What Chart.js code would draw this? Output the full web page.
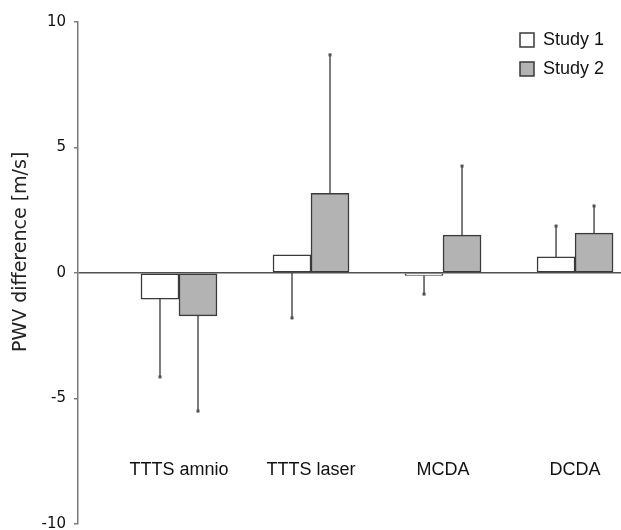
<!DOCTYPE html>
<html>
<head>
<meta charset="utf-8">
<script src="https://cdn.jsdelivr.net/npm/chart.js@4/dist/chart.umd.min.js"></script>
<style>
  html, body { margin: 0; padding: 0; background: #fff; }
  #wrap { width: 621px; height: 530px; }
</style>
</head>
<body>
<div id="wrap"><canvas id="c" width="621" height="530"></canvas></div>
<script>
// ---- data ----
const categories = ['TTTS amnio', 'TTTS laser', 'MCDA', 'DCDA'];
const seriesNames = ['Study 1', 'Study 2'];
const study1 = [-1.04, 0.72, -0.10, 0.64];
const study2 = [-1.71, 3.17, 1.51, 1.59];
// end value of each (one-sided) error bar
const study1ErrEnd = [-4.14, -1.79, -0.84, 1.87];
const study2ErrEnd = [-5.50, 8.69, 4.26, 2.67];
const yTicks = [-10, -5, 0, 5, 10];

const toPoints = arr => arr.map((v, i) => ({ x: i + 1, y: v }));

const errorBarPlugin = {
  id: 'errorBars',
  beforeDatasetsDraw(chart) {
    const ctx = chart.ctx;
    const ys = chart.scales.y;
    const ends = [study1ErrEnd, study2ErrEnd];
    ctx.save();
    ctx.strokeStyle = '#505050';
    ctx.fillStyle = '#505050';
    ctx.lineWidth = 1.5;
    chart.data.datasets.forEach((ds, di) => {
      const meta = chart.getDatasetMeta(di);
      meta.data.forEach((bar, j) => {
        const x = bar.x;
        const y0 = ys.getPixelForValue(ds.data[j].y);
        const y1 = ys.getPixelForValue(ends[di][j]);
        ctx.beginPath();
        ctx.moveTo(x, y0);
        ctx.lineTo(x, y1);
        ctx.stroke();
        ctx.fillRect(x - 1.5, y1 - 1.5, 3, 3);
      });
    });
    ctx.restore();
  }
};

const legendPlacer = {
  id: 'legendPlacer',
  afterLayout(chart) {
    const lg = chart.legend;
    if (!lg) return;
    const w = lg.width, h = lg.height;
    lg.left = 509; lg.top = 20;
    lg.right = lg.left + w; lg.bottom = lg.top + h;
  }
};

new Chart(document.getElementById('c'), {
  type: 'bar',
  data: {
    datasets: [
      {
        label: seriesNames[0],
        data: toPoints(study1),
        backgroundColor: '#ffffff',
        borderColor: '#3a3a3a',
        borderWidth: 1.5,
        borderSkipped: false
      },
      {
        label: seriesNames[1],
        data: toPoints(study2),
        backgroundColor: '#b3b3b3',
        borderColor: '#3a3a3a',
        borderWidth: 1.5,
        borderSkipped: false
      }
    ]
  },
  options: {
    responsive: false,
    devicePixelRatio: 1,
    animation: false,
    barThickness: 38,
    layout: { padding: { top: 22, bottom: 6, left: 0, right: 0 } },
    plugins: {
      tooltip: { enabled: false },
      legend: {
        position: 'chartArea',
        align: 'start',
        labels: {
          font: { family: '"Liberation Sans", Arial, sans-serif', size: 18 },
          color: '#111',
          boxWidth: 14,
          boxHeight: 14,
          padding: 11
        }
      }
    },
    scales: {
      x: {
        type: 'linear',
        position: { y: -7.0 },
        min: 0.235,
        max: 4.348,
        offset: false,
        grid: { display: false },
        border: { display: false },
        afterBuildTicks: s => { s.ticks = categories.map((c, i) => ({ value: i + 1 })); },
        afterFit: s => { s.paddingLeft = 0; s.paddingRight = 0; },
        ticks: {
          padding: 3,
          maxRotation: 0,
          autoSkip: false,
          color: '#111',
          font: { family: '"Liberation Sans", Arial, sans-serif', size: 18 },
          callback: v => categories[Math.round(v) - 1]
        }
      },
      y: {
        min: -10,
        max: 10,
        afterBuildTicks: s => { s.ticks = yTicks.map(v => ({ value: v })); },
        afterFit: s => { s.width = 78; s.paddingTop = 0; s.paddingBottom = 0; },
        border: { display: true, color: '#7a7a7a', width: 1.5 },
        grid: {
          drawOnChartArea: true,
          drawTicks: true,
          tickLength: 4,
          tickColor: '#7a7a7a',
          lineWidth: 1.5,
          color: ctx => (ctx.tick && ctx.tick.value === 0) ? '#505050' : 'rgba(0,0,0,0)'
        },
        ticks: {
          padding: 8,
          color: '#111',
          font: { family: '"DejaVu Sans", Verdana, sans-serif', size: 15 }
        },
        title: {
          display: true,
          text: '       PWV difference [m/s]',
          color: '#222',
          padding: { top: 10, bottom: 0 },
          font: { family: '"DejaVu Sans", Verdana, sans-serif', size: 19 }
        }
      }
    }
  },
  plugins: [errorBarPlugin, legendPlacer]
});
</script>
</body>
</html>
